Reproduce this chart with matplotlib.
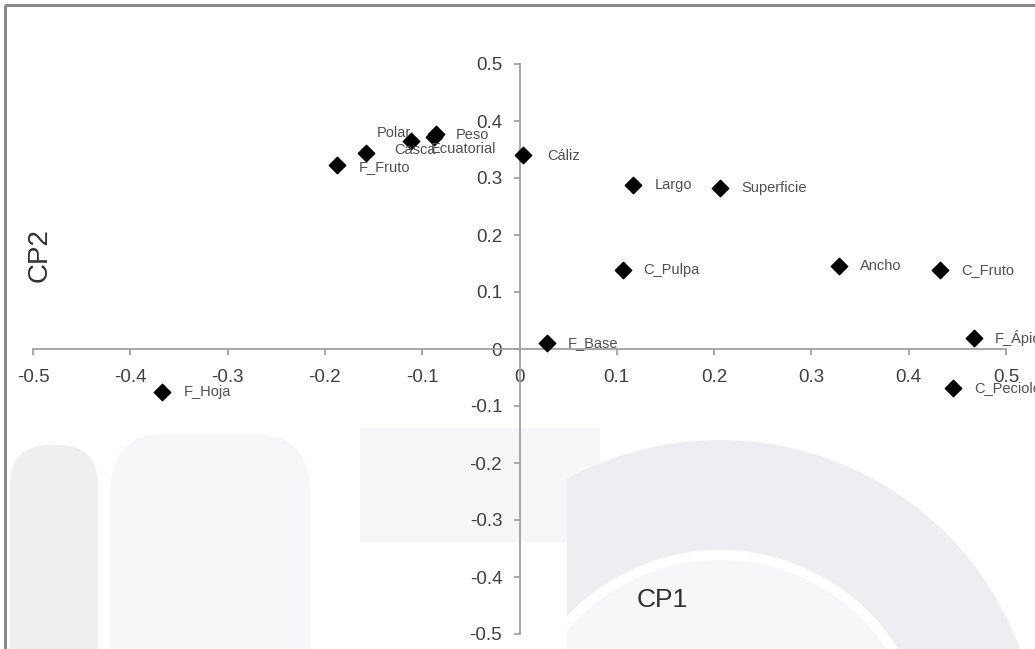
import matplotlib
matplotlib.use("Agg")
import matplotlib.pyplot as plt
from matplotlib.patches import Rectangle, FancyBboxPatch, Wedge

plt.rcParams['font.family'] = ['Liberation Sans', 'DejaVu Sans']

# PCA loadings
labels = ['F_Fruto', 'Casca', 'Polar', 'Peso', 'Ecuatorial', 'Cáliz', 'Largo',
          'Superficie', 'C_Pulpa', 'F_Base', 'Ancho', 'C_Fruto', 'F_Ápice',
          'C_Peciolo', 'F_Hoja']
cp1 = [-0.188, -0.158, -0.112, -0.086, -0.088, 0.004, 0.117,
       0.206, 0.106, 0.028, 0.328, 0.432, 0.467, 0.446, -0.367]
cp2 = [0.322, 0.343, 0.365, 0.378, 0.372, 0.341, 0.287,
       0.282, 0.139, 0.010, 0.145, 0.138, 0.020, -0.069, -0.075]

ticks = [-0.5, -0.4, -0.3, -0.2, -0.1, 0, 0.1, 0.2, 0.3, 0.4, 0.5]
tick_text = ['-0.5', '-0.4', '-0.3', '-0.2', '-0.1', '0', '0.1', '0.2', '0.3', '0.4', '0.5']

# label placement (pixels) - most sit right of the marker
offsets = {'Polar': (0, 8, 'right'), 'Casca': (28, 3, 'left'),
           'Ecuatorial': (-3, -12, 'left'), 'Peso': (20, -1, 'left'),
           'F_Fruto': (22, -2, 'left'), 'Cáliz': (24, -1, 'left')}

fig = plt.figure(figsize=(10.35, 6.49), dpi=100)
fig.patch.set_facecolor('white')

# background layer in image pixels for the faint watermark
bg = fig.add_axes([0, 0, 1, 1], zorder=0)
bg.set_xlim(0, 1035)
bg.set_ylim(649, 0)
bg.axis('off')
bg.add_patch(FancyBboxPatch((10, 445), 88, 260, boxstyle='round,pad=0,rounding_size=40',
                            fc='#efeff2', ec='none'))
bg.add_patch(FancyBboxPatch((110, 433), 200, 270, boxstyle='round,pad=0,rounding_size=60',
                            fc='#f7f7f9', ec='none'))
bg.add_patch(Rectangle((360, 428), 240, 114, fc='#f6f6f8', ec='none'))
arc = Wedge((720, 760), 320, 180, 360, width=110, fc='#eeeef2', ec='none')
bg.add_patch(arc)
arc.set_clip_path(Rectangle((567, 430), 500, 300, transform=bg.transData))
inner = Wedge((720, 760), 200, 180, 360, width=120, fc='#f7f7f9', ec='none')
bg.add_patch(inner)
inner.set_clip_path(Rectangle((567, 540), 500, 300, transform=bg.transData))

# grey frame around the chart
bg.add_patch(Rectangle((5, 5), 1100, 700, fill=False, ec='#8a8a8a', lw=2.2, zorder=5))

ax = fig.add_axes([33 / 1035, 15 / 649, 973 / 1035, 570 / 649], zorder=2)
ax.patch.set_alpha(0)
ax.set_xlim(-0.5, 0.5)
ax.set_ylim(-0.5, 0.5)

for s in ['top', 'right']:
    ax.spines[s].set_visible(False)
for s in ['left', 'bottom']:
    ax.spines[s].set_position(('data', 0))
    ax.spines[s].set_color('#a0a0a0')
    ax.spines[s].set_linewidth(1.3)

ax.set_xticks(ticks)
ax.set_xticklabels(tick_text)
ax.set_yticks(ticks)
ax.set_yticklabels(tick_text)
ax.tick_params(axis='x', direction='out', length=4.5, color='#a0a0a0', width=1.3,
               pad=10, labelsize=13.5, labelcolor='#404040')
ax.tick_params(axis='y', direction='out', length=4.5, color='#a0a0a0', width=1.3,
               pad=8, labelsize=13.5, labelcolor='#404040')

ax.scatter(cp1, cp2, marker='D', s=70, color='black', zorder=3, clip_on=False)

for name, x, y in zip(labels, cp1, cp2):
    dx, dy, ha = offsets.get(name, (21, 0, 'left'))
    ax.annotate(name, (x, y), xytext=(dx, dy), textcoords='offset pixels',
                ha=ha, va='center', fontsize=10.5, color='#505050',
                annotation_clip=False, zorder=4)

fig.text(40 / 1035, 1 - 255 / 649, 'CP2', rotation=90, ha='center', va='center',
         fontsize=20, color='#303030')
fig.text(662 / 1035, 1 - 600 / 649, 'CP1', ha='center', va='center',
         fontsize=19, color='#303030')

fig.savefig('out.png', dpi=100)
